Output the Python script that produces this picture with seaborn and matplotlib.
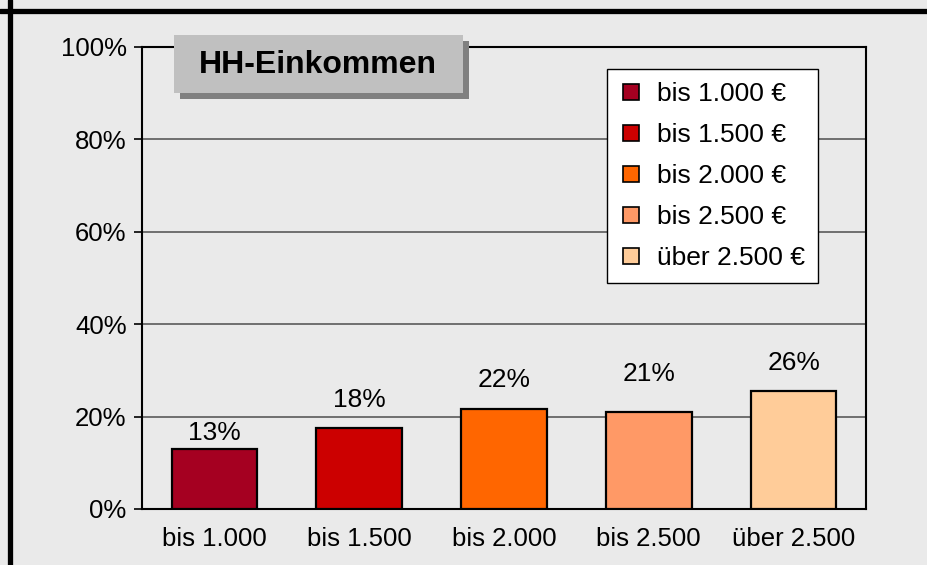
import numpy as np
import pandas as pd
import matplotlib.pyplot as plt
import seaborn as sns
from matplotlib.lines import Line2D
from matplotlib.patches import Rectangle

# data
categories = ['bis 1.000', 'bis 1.500', 'bis 2.000', 'bis 2.500', 'über 2.500']
legend_labels = ['bis 1.000 €', 'bis 1.500 €', 'bis 2.000 €', 'bis 2.500 €', 'über 2.500 €']
shares = [13.0, 17.6, 21.7, 21.0, 25.6]
colors = ['#A50021', '#CC0000', '#FF6600', '#FF9966', '#FFCC99']
yticks = [0, 20, 40, 60, 80, 100]

sns.set_style('white')
plt.rcParams['font.family'] = ['Liberation Sans', 'DejaVu Sans']
plt.rcParams['text.color'] = 'black'
plt.rcParams['xtick.labelcolor'] = 'black'
plt.rcParams['ytick.labelcolor'] = 'black'

bg = '#EAEAEA'
df = pd.DataFrame({'cat': categories, 'share': shares})

fig = plt.figure(figsize=(9.28, 5.65), dpi=100, facecolor=bg)
ax = fig.add_axes([142 / 928, 1 - 509 / 565, 724 / 928, 462 / 565])
ax.set_facecolor(bg)

sns.barplot(data=df, x='cat', y='share', hue='cat', palette=colors, legend=False,
            width=0.59, edgecolor='black', linewidth=1.6, saturation=1, ax=ax, zorder=3)

# value labels above the bars
label_pad = [3, 11, 12, 19, 11]
for patch, val, pad in zip(ax.patches, shares, label_pad):
    ax.annotate(f'{round(val)}%', (patch.get_x() + patch.get_width() / 2, patch.get_height()),
                xytext=(0, pad), textcoords='offset points', ha='center', va='bottom',
                fontsize=19, color='black', zorder=5)

ax.set_xlim(-0.5, 4.5)
ax.set_ylim(0, 100)
ax.set_yticks(yticks)
ax.set_yticklabels([f'{t}%' for t in yticks], fontsize=18.5)
ax.set_xticks(range(len(categories)))
ax.set_xticklabels(categories, fontsize=18.5)
ax.set_xticks(np.arange(-0.5, 5, 1), minor=True)
ax.tick_params(axis='x', which='major', length=0, pad=13)
ax.tick_params(axis='x', which='minor', direction='out', length=6, width=1.2, color='black')
ax.tick_params(axis='y', direction='out', length=6, width=1.2, color='black', pad=5, left=True)
ax.set_xlabel('')
ax.set_ylabel('')

ax.set_axisbelow(True)
ax.yaxis.grid(True, color='#5a5a5a', linewidth=1.2)
for side in ['left', 'right', 'top', 'bottom']:
    ax.spines[side].set_visible(True)
    ax.spines[side].set_color('black')
    ax.spines[side].set_linewidth(1.5)

# legend
handles = [Line2D([0], [0], marker='s', linestyle='', markersize=11.5,
                  markerfacecolor=c, markeredgecolor='black', markeredgewidth=1.2)
           for c in colors]
leg = ax.legend(handles, legend_labels, loc='upper left', bbox_to_anchor=(0.642, 0.952),
                borderaxespad=0, fontsize=19, frameon=True, fancybox=False,
                edgecolor='black', framealpha=1, labelspacing=0.64, handlelength=0.8,
                handletextpad=0.6, borderpad=0.5)
leg.get_frame().set_linewidth(1.0)
leg.set_zorder(10)

# title box with shadow
fig.patches.append(Rectangle((180 / 928, 1 - 99 / 565), 289 / 928, 58 / 565,
                             transform=fig.transFigure, facecolor='#808080',
                             edgecolor='none', zorder=2))
fig.patches.append(Rectangle((174 / 928, 1 - 93 / 565), 289 / 928, 58 / 565,
                             transform=fig.transFigure, facecolor='#C0C0C0',
                             edgecolor='none', zorder=3))
fig.text(318 / 928, 1 - 65 / 565, 'HH-Einkommen', ha='center', va='center',
         fontsize=23, fontweight='bold', zorder=4)

# thick frame lines
fig.add_artist(Line2D([0, 1], [1 - 11 / 565, 1 - 11 / 565], color='black', linewidth=3.8,
                      transform=fig.transFigure))
fig.add_artist(Line2D([10 / 928, 10 / 928], [0, 1], color='black', linewidth=3.8,
                      transform=fig.transFigure))

fig.savefig('out.png', dpi=100, facecolor=bg)
